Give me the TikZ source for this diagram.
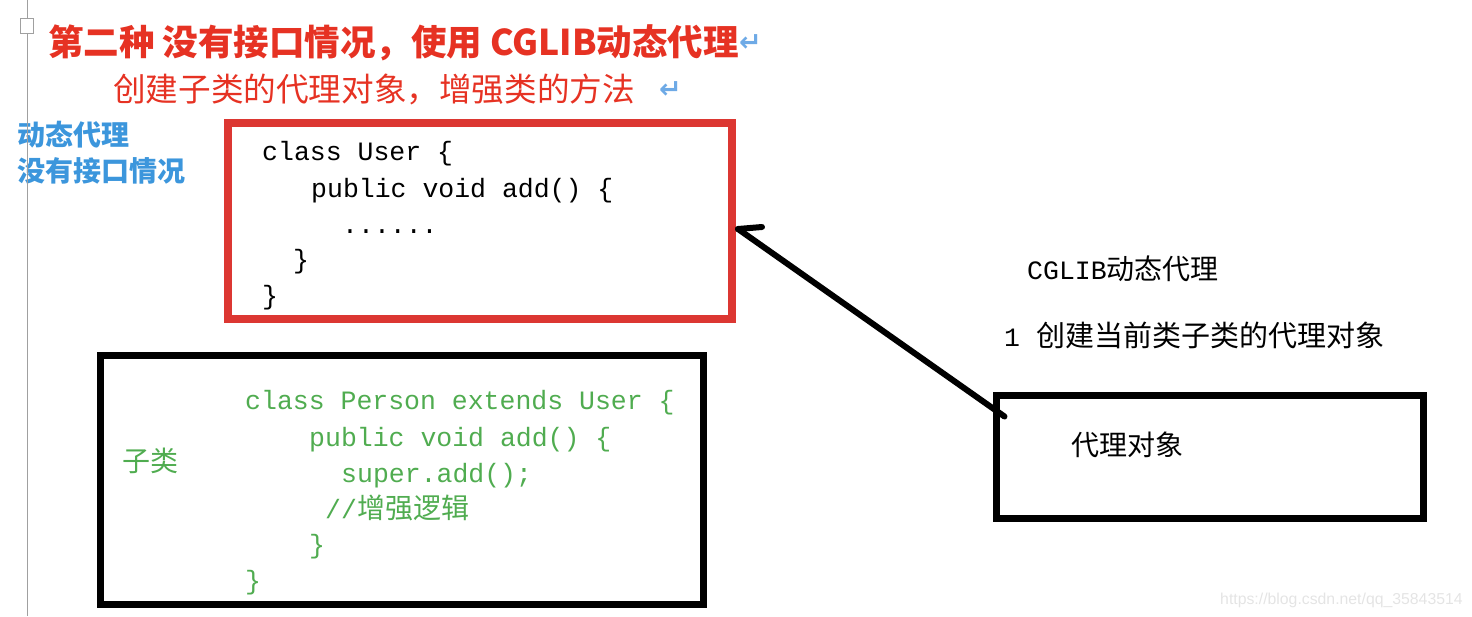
\documentclass[tikz,border=0pt]{standalone}
\usepackage{fontspec}
\setmainfont{Liberation Sans}
\newfontfamily\cjk{Noto Sans CJK SC}
\newfontfamily\codefont{Liberation Mono}
\newfontfamily\symfont{DejaVu Sans}
\usepackage{xcolor}
\usepackage{tikz}
\usetikzlibrary{
    positioning,
    calc
}
\definecolor{titlered}{RGB}{230,50,35}
\definecolor{boxred}{RGB}{220,55,50}
\definecolor{codegreen}{RGB}{80,172,80}
\definecolor{labelblue}{RGB}{60,150,220}
\definecolor{retblue}{RGB}{110,170,230}
\definecolor{margingray}{RGB}{160,160,160}
\definecolor{markgray}{RGB}{228,228,228}
\tikzset{
  codebox/.style = {
      draw,
      rectangle,
      inner sep=0pt,
      line width=7pt
  },
  userbox/.style = {
      codebox,
      draw=boxred,
      line width=8pt,
      minimum width=504pt,
      minimum height=196pt
  },
  personbox/.style = {
      codebox,
      minimum width=603pt,
      minimum height=249pt
  },
  proxybox/.style = {
      codebox,
      minimum width=427pt,
      minimum height=123pt
  },
  plain/.style = {
      anchor=base west,
      inner sep=0pt
  },
  codeline/.style = {
      plain,
      font=\codefont\fontsize{26.5}{30}\selectfont
  },
  greenline/.style = {
      codeline,
      text=codegreen
  },
  note/.style = {
      plain,
      font=\cjk\fontsize{28}{32}\selectfont
  },
  retmark/.style = {
      plain,
      text=retblue,
      font=\symfont\bfseries\fontsize{27}{30}\selectfont
  },
  arrowline/.style = {
      line width=6pt,
      line cap=round
  }
}

\begin{document}
\begin{tikzpicture}[x=1pt, y=-1pt]
    \useasboundingbox (0,0) rectangle (1472,616);
    % Headings
    \node[plain, text=titlered, font=\cjk\bfseries\fontsize{35.5}{38}\selectfont] (title) at (48,55)
        {第二种 没有接口情况，使用 CGLIB动态代理};
    \node[retmark] (ret1) at (739,51) {↵};
    \node[plain, text=titlered, font=\cjk\fontsize{32.6}{36}\selectfont] (subtitle) at (113,101)
        {创建子类的代理对象，增强类的方法};
    \node[retmark] (ret2) at (659,98) {↵};
    \node[note, text=labelblue, font=\cjk\bfseries\fontsize{28}{32}\selectfont] (dyn) at (17,145) {动态代理};
    \node[note, text=labelblue, font=\cjk\bfseries\fontsize{28}{32}\selectfont] (noif) at (17,181) {没有接口情况};
    % Margin
    \draw[margingray, line width=1.5pt] (27.5,0) -- (27.5,616);
    \node[draw=margingray, fill=white, line width=1pt, inner sep=0pt,
        minimum width=13pt, minimum height=15pt] (check) at (26.5,25.5) {};
    % Parent class
    \node[userbox] (user) at (480,221) {};
    \node[codeline] (u1) at (262,160) {class User \{};
    \node[codeline] (u2) at (311,197) {public void add() \{};
    \node[codeline] (u3) at (342,233) {......};
    \node[codeline] (u4) at (293,268) {\}};
    \node[codeline] (u5) at (262,304) {\}};
    % Sub class
    \node[personbox] (person) at (402,480) {};
    \node[note, text=codegreen] (sub) at (122,471) {子类};
    \node[greenline] (p1) at (245,409) {class Person extends User \{};
    \node[greenline] (p2) at (309,446) {public void add() \{};
    \node[greenline] (p3) at (341,482) {super.add();};
    \node[greenline] (p4) at (325,518) {//{\cjk\fontsize{28}{32}\selectfont 增强逻辑}};
    \node[greenline] (p5) at (309,553) {\}};
    \node[greenline] (p6) at (245,589) {\}};
    % Proxy
    \node[codeline] (cglib) at (1027,279) {CGLIB{\cjk\fontsize{28}{32}\selectfont 动态代理}};
    \node[codeline] (step1) at (1004,346) {1 {\cjk\fontsize{29}{34}\selectfont 创建当前类子类的代理对象}};
    \node[proxybox] (proxy) at (1210,457) {};
    \node[note] (proxytext) at (1071,455) {代理对象};
    % Arrow
    \coordinate (hook) at ($(proxy.north west)+(11.5,24.5)$);
    \coordinate (tip) at ($(user.east)+(2,8)$);
    \draw[arrowline] (hook) -- (tip);
    \draw[arrowline] (tip) -- ++(24,-2);
    % Watermark
    \node[plain, text=markgray, font=\fontsize{15.8}{17}\selectfont] (mark) at (1220,604)
        {https://blog.csdn.net/qq\_35843514};
\end{tikzpicture}
\end{document}
